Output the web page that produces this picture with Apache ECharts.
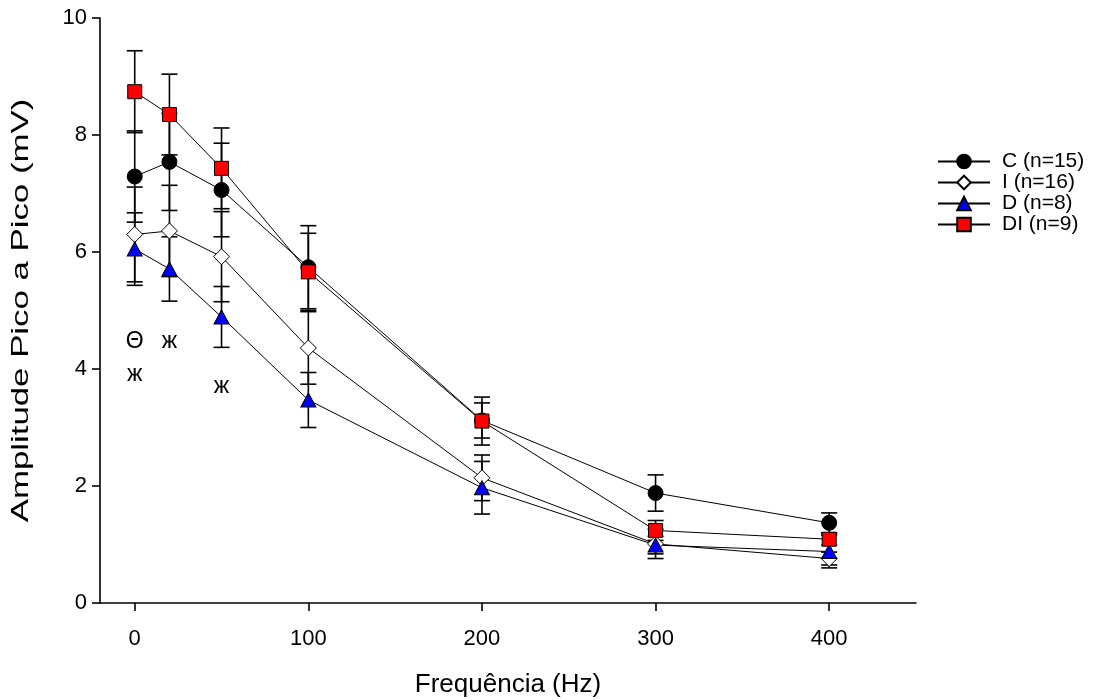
<!DOCTYPE html>
<html>
<head>
<meta charset="utf-8">
<script src="https://cdn.jsdelivr.net/npm/echarts@6/dist/echarts.min.js"></script>
<style>html,body{margin:0;padding:0;background:#fff;}#c{width:1093px;height:700px;}</style>
</head>
<body>
<div id="c"></div>
<script>
// Frequencies (Hz)
var freq = [0, 20, 50, 100, 200, 300, 400];
// Series means and errors (mV)
var C     = [7.29, 7.54, 7.06, 5.74, 3.12, 1.88, 1.37];
var Cerr  = [0.78, 0.83, 0.80, 0.71, 0.30, 0.31, 0.17];
var I     = [6.30, 6.36, 5.92, 4.36, 2.14, 1.01, 0.76];
var Ierr  = [0.81, 0.78, 0.77, 0.62, 0.39, 0.25, 0.11];
var D     = [6.05, 5.71, 4.89, 3.47, 1.97, 0.99, 0.88];
var Derr  = [0.62, 0.55, 0.52, 0.47, 0.45, 0.15, 0.28];
var DI    = [8.74, 8.35, 7.43, 5.66, 3.11, 1.24, 1.09];
var DIerr = [0.70, 0.69, 0.69, 0.66, 0.41, 0.17, 0.10];
var seriesNames = ['C (n=15)', 'I (n=16)', 'D (n=8)', 'DI (n=9)'];
var xTicks = [0, 100, 200, 300, 400];
var xTitle = 'Frequência (Hz)';
var yTitle = 'Amplitude Pico a Pico (mV)';
// Significance annotations: [x, y, text]
var annotations = [[0, 4.46, 'Θ'], [0, 3.90, 'ж'], [20, 4.47, 'ж'], [50, 3.69, 'ж']];

var FONT = '"Liberation Sans", Arial, sans-serif';

function pairs(ys) { return freq.map(function (f, i) { return [f, ys[i]]; }); }
function errData(ys, es) { return freq.map(function (f, i) { return [f, ys[i] - es[i], ys[i] + es[i]]; }); }

function errSeries(ys, es) {
  return {
    type: 'custom', z: 1, silent: true,
    data: errData(ys, es),
    encode: { x: 0, y: [1, 2] },
    renderItem: function (params, api) {
      var lo = api.coord([api.value(0), api.value(1)]);
      var hi = api.coord([api.value(0), api.value(2)]);
      var hw = 8;
      var st = { stroke: '#000', lineWidth: 1.6 };
      return {
        type: 'group', children: [
          { type: 'line', shape: { x1: lo[0], y1: lo[1], x2: hi[0], y2: hi[1] }, style: st },
          { type: 'line', shape: { x1: lo[0] - hw, y1: lo[1], x2: lo[0] + hw, y2: lo[1] }, style: st },
          { type: 'line', shape: { x1: hi[0] - hw, y1: hi[1], x2: hi[0] + hw, y2: hi[1] }, style: st }
        ]
      };
    }
  };
}

function lineSeries(name, ys, symbol, size, color) {
  return {
    name: name, type: 'line', z: 3,
    data: pairs(ys),
    symbol: symbol, symbolSize: size, showAllSymbol: true,
    lineStyle: { color: '#000', width: 1 },
    itemStyle: { color: color, borderColor: '#000', borderWidth: 1 },
    emphasis: { disabled: true },
    animation: false
  };
}

var chart = echarts.init(document.getElementById('c'));
var option = {
  animation: false,
  backgroundColor: '#fff',
  textStyle: { fontFamily: FONT },
  grid: { left: 100, right: 177, top: 18, bottom: 97, outerBoundsMode: 'none', containLabel: false },
  legend: {
    orient: 'vertical', left: 937, top: 151, itemGap: 0, padding: 0,
    itemWidth: 52, itemHeight: 17,
    textStyle: { fontSize: 21, lineHeight: 21, color: '#000', fontFamily: FONT, padding: [0, 0, 0, 7] },
    data: seriesNames
  },
  xAxis: {
    type: 'value', min: -20, max: 450,
    name: xTitle, nameLocation: 'middle', nameGap: 69,
    nameTextStyle: { fontSize: 26, color: '#000', fontFamily: FONT },
    axisLine: { show: true, onZero: false, lineStyle: { color: '#000', width: 1.6 } },
    axisTick: { show: true, length: 8, lineStyle: { color: '#000', width: 1.6 }, customValues: xTicks },
    axisLabel: { fontSize: 22, color: '#000', margin: 25, customValues: xTicks, fontFamily: FONT },
    splitLine: { show: false }
  },
  yAxis: {
    type: 'value', min: 0, max: 10, interval: 2,
    axisLine: { show: true, onZero: false, lineStyle: { color: '#000', width: 1.6 } },
    axisTick: { show: true, length: 8, lineStyle: { color: '#000', width: 1.6 } },
    axisLabel: { fontSize: 22, color: '#000', margin: 13, fontFamily: FONT },
    splitLine: { show: false }
  },
  series: [
    errSeries(C, Cerr), errSeries(I, Ierr), errSeries(D, Derr), errSeries(DI, DIerr),
    lineSeries(seriesNames[0], C, 'circle', 15, '#000'),
    lineSeries(seriesNames[1], I, 'diamond', [16, 16], '#fff'),
    lineSeries(seriesNames[2], D, 'triangle', [15, 14], '#0000ff'),
    lineSeries(seriesNames[3], DI, 'rect', [14, 14], '#ff0000')
  ]
};
chart.setOption(option);

var g = annotations.map(function (a) {
  var p = chart.convertToPixel({ gridIndex: 0 }, [a[0], a[1]]);
  return {
    type: 'text', x: p[0], y: p[1], z: 10,
    style: { text: a[2], fontSize: 23, fill: '#000', align: 'center', verticalAlign: 'middle', fontFamily: FONT }
  };
});
var yMid = chart.convertToPixel({ yAxisIndex: 0 }, 5);
g.push({
  type: 'text', x: 21, y: yMid, rotation: Math.PI / 2, scaleX: 1.45, scaleY: 1, z: 10,
  style: { text: yTitle, fontSize: 24, fill: '#000', align: 'center', verticalAlign: 'middle', fontFamily: FONT }
});
chart.setOption({ graphic: g });
</script>
</body>
</html>
